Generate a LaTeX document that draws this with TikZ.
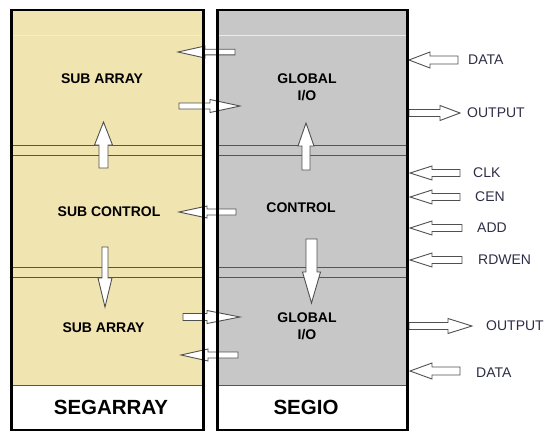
\documentclass[tikz,border=0pt]{standalone}
\usepackage{fontspec}
\setmainfont{Liberation Sans}
\definecolor{arryel}{RGB}{240,228,176}
\definecolor{iogray}{RGB}{199,199,199}
\definecolor{sepline}{RGB}{85,85,85}
\definecolor{arrline}{RGB}{80,80,80}
\definecolor{extlab}{RGB}{45,45,70}
\tikzset{
  blockarr/.style={draw=arrline, fill=white, line width=0.9pt, line join=miter},
  pics/barrow/.style n args={4}{code={
    \draw[blockarr] (0,-#3) -- (#1-#2,-#3) -- (#1-#2,-#4) -- (#1,0) -- (#1-#2,#4) -- (#1-#2,#3) -- (0,#3) -- cycle;
  }},
  innerlab/.style={font=\fontsize{14}{15}\selectfont\bfseries, text=black, inner sep=0pt, align=center},
  extlabel/.style={font=\fontsize{14}{15}\selectfont, text=extlab, inner sep=0pt, anchor=west},
  titlelab/.style={font=\fontsize{20.5}{22}\selectfont\bfseries, text=black, inner sep=0pt},
  thinsep/.style={draw=sepline, line width=0.8pt},
  boxborder/.style={draw=black, line width=2.6pt},
}
\begin{document}
\begin{tikzpicture}[x=1pt,y=-1pt]
\useasboundingbox (0,0) rectangle (547,432);
% fills
\fill[arryel] (12,10) rectangle (203,385);
\fill[iogray] (218,10) rectangle (407,385);
% separator lines
\draw[white!92!black, line width=0.6pt] (12,35) -- (203,35) (218,35) -- (407,35);
\foreach \yy in {145,155,267,277,385}{
  \draw[thinsep] (12,\yy) -- (203,\yy);
  \draw[thinsep] (218,\yy) -- (407,\yy);
}
% internal arrows
\pic[rotate=180] at (235,52) {barrow={57}{27}{2.8}{6}};
\pic at (179,106) {barrow={61}{30}{3}{6.5}};
\pic[rotate=90] at (103.5,168) {barrow={46}{23}{4.5}{9}};
\pic[rotate=180] at (236,212) {barrow={57}{28}{3}{6}};
\pic[rotate=-90] at (105,247) {barrow={60}{29}{3}{7}};
\pic at (183,317) {barrow={57}{33}{3.5}{6.5}};
\pic[rotate=180] at (238,355) {barrow={57}{27}{3}{6}};
\pic[rotate=90] at (306,170) {barrow={47}{23}{4}{8}};
\pic[rotate=-90] at (311.5,239) {barrow={64}{31}{5.5}{9}};
% external arrows
\pic[rotate=180] at (458,60) {barrow={49}{21}{4}{8}};
\pic at (409,113) {barrow={51}{20}{3.5}{7.5}};
\pic[rotate=180] at (460,173) {barrow={50}{22}{3.5}{7}};
\pic[rotate=180] at (460,197) {barrow={50}{22}{3.5}{7}};
\pic[rotate=180] at (462,228) {barrow={52}{22}{3.5}{7}};
\pic[rotate=180] at (462,260) {barrow={52}{22}{3.5}{7}};
\pic at (409,326) {barrow={63}{24}{3.5}{7.5}};
\pic[rotate=180] at (460,371) {barrow={50}{22}{4}{8}};
% borders
\draw[boxborder] (11.5,10) rectangle (203.5,430);
\draw[boxborder] (217.5,10) rectangle (407.5,430);
% inner labels
\node[innerlab] (sa1) at (102,79) {SUB ARRAY};
\node[innerlab] (gio1) at (307,87.5) {GLOBAL\\[2pt]I/O};
\node[innerlab] (sc) at (109,212) {SUB CONTROL};
\node[innerlab] (ctl) at (301,208) {CONTROL};
\node[innerlab] (sa2) at (103.5,328) {SUB ARRAY};
\node[innerlab] (gio2) at (307,326.5) {GLOBAL\\[2pt]I/O};
\node[titlelab] (segarray) at (111,407) {SEGARRAY};
\node[titlelab] (segio) at (306,407) {SEGIO};
% external labels
\node[extlabel] (data1) at (468,60) {DATA};
\node[extlabel] (out1) at (467,113) {OUTPUT};
\node[extlabel] (clk) at (473,173) {CLK};
\node[extlabel] (cen) at (475,197) {CEN};
\node[extlabel] (add) at (477,228) {ADD};
\node[extlabel] (rdwen) at (478,260) {RDWEN};
\node[extlabel] (out2) at (486,326) {OUTPUT};
\node[extlabel] (data2) at (476,373) {DATA};
\end{tikzpicture}
\end{document}
